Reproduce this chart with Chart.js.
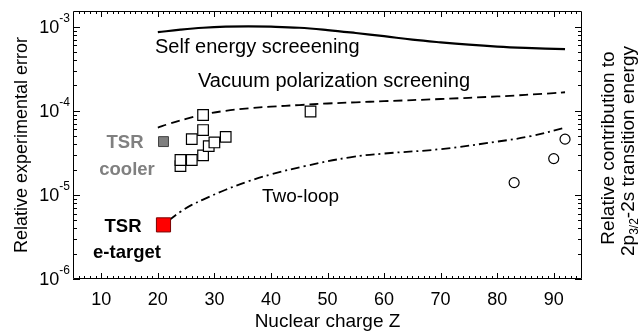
<!DOCTYPE html>
<html>
<head>
<meta charset="utf-8">
<script src="https://cdn.jsdelivr.net/npm/chart.js@4/dist/chart.umd.min.js"></script>
<style>
body { margin: 0; background: #fff; }
#wrap { width: 640px; height: 335px; }
</style>
</head>
<body>
<div id="wrap"><canvas id="chart"></canvas></div>
<script>
// theory curves (Z, relative contribution)
var selfEnergyZ = [20, 24, 28, 32, 36, 40, 45, 50, 55, 60, 65, 70, 75, 80, 85, 92];
var selfEnergy = [8.6e-4, 9.2e-4, 9.7e-4, 1.0e-3, 1.01e-3, 1.0e-3, 9.7e-4, 9.1e-4, 8.4e-4, 7.7e-4, 7.0e-4, 6.5e-4, 6.1e-4, 5.8e-4, 5.6e-4, 5.4e-4];
var vacPolZ = [20, 22, 25, 28, 32, 36, 40, 45, 50, 55, 60, 70, 80, 90, 92];
var vacPol = [6.3e-5, 7.0e-5, 8.0e-5, 9.0e-5, 1.0e-4, 1.07e-4, 1.12e-4, 1.17e-4, 1.22e-4, 1.26e-4, 1.3e-4, 1.38e-4, 1.48e-4, 1.62e-4, 1.66e-4];
var twoLoopZ = [22, 24, 26, 28, 32, 36, 40, 46, 54, 60, 70, 80, 86, 92];
var twoLoop = [5.0e-6, 6.3e-6, 7.6e-6, 8.8e-6, 1.15e-5, 1.45e-5, 1.75e-5, 2.2e-5, 2.8e-5, 3.1e-5, 3.5e-5, 4.3e-5, 5.0e-5, 6.3e-5];

// measurements (Z, relative experimental error)
var otherZ = [24, 24, 26, 26, 28, 28, 28, 29, 30, 32, 47];
var otherErr = [2.2e-5, 2.6e-5, 2.6e-5, 4.6e-5, 2.95e-5, 5.9e-5, 8.9e-5, 3.8e-5, 4.2e-5, 4.9e-5, 9.8e-5];
var heavyZ = [83, 90, 92];
var heavyErr = [1.4e-5, 2.7e-5, 4.6e-5];
var coolerZ = [21];
var coolerErr = [4.3e-5];
var etargetZ = [21];
var etargetErr = [4.4e-6];

var xTicks = [10, 20, 30, 40, 50, 60, 70, 80, 90];
var yExponents = [-6, -5, -4, -3];

var yMin = 1e-6, yMax = 1.535e-3;

function pts(xs, ys) {
    return xs.map(function (x, i) { return { x: x, y: ys[i] }; });
}

var FAM = "'Liberation Sans', Arial, sans-serif";
Chart.defaults.font.family = FAM;
Chart.defaults.color = '#000';

var decor = {
    id: 'decor',
    afterDraw: function (chart) {
        var ctx = chart.ctx, a = chart.chartArea;
        var xs = chart.scales.x, ys = chart.scales.y;
        ctx.save();
        ctx.strokeStyle = '#000';
        ctx.lineWidth = 1;
        ctx.beginPath();
        ctx.rect(a.left + 0.5, a.top + 0.5, a.right - a.left - 1, a.bottom - a.top - 1);
        for (var z = 6; z <= 94; z++) {
            var px = Math.round(xs.getPixelForValue(z)) + 0.5;
            var len = z % 10 === 0 ? 6 : 3;
            ctx.moveTo(px, a.bottom); ctx.lineTo(px, a.bottom - len);
            ctx.moveTo(px, a.top); ctx.lineTo(px, a.top + len);
        }
        for (var e = -6; e <= -3; e++) {
            for (var m = 1; m <= 9; m++) {
                var v = m * Math.pow(10, e);
                if (v > yMax) break;
                var py = Math.round(ys.getPixelForValue(v)) + 0.5;
                var l = m === 1 ? 7 : 4;
                ctx.moveTo(a.left, py); ctx.lineTo(a.left + l, py);
                ctx.moveTo(a.right, py); ctx.lineTo(a.right - l, py);
            }
        }
        ctx.stroke();

        // y tick labels 10^n
        ctx.fillStyle = '#000';
        ctx.textBaseline = 'middle';
        yExponents.forEach(function (ex) {
            var y = ys.getPixelForValue(Math.pow(10, ex));
            var sup = '-' + Math.abs(ex);
            ctx.font = '12px ' + FAM;
            var sw = ctx.measureText(sup).width;
            ctx.textAlign = 'left';
            ctx.fillText(sup, a.left - 3 - sw, y - 8);
            ctx.font = '18px ' + FAM;
            ctx.textAlign = 'right';
            ctx.fillText('10', a.left - 3 - sw, y + 1);
        });

        // annotations
        ctx.textAlign = 'left';
        ctx.font = '20px ' + FAM;
        ctx.fillText('Self energy screeening', 155, 47);
        ctx.fillText('Vacuum polarization screening', 198, 81);
        ctx.font = '19px ' + FAM;
        ctx.fillText('Two-loop', 262, 197);
        ctx.textAlign = 'center';
        ctx.font = 'bold 18.5px ' + FAM;
        ctx.fillStyle = '#808080';
        ctx.fillText('TSR', 125, 143);
        ctx.fillText('cooler', 127, 170);
        ctx.fillStyle = '#000';
        ctx.fillText('TSR', 123, 227);
        ctx.fillText('e-target', 127, 253);

        // right axis title
        ctx.save();
        ctx.translate(609, 148);
        ctx.rotate(-Math.PI / 2);
        ctx.font = '19px ' + FAM;
        ctx.textAlign = 'center';
        ctx.fillText('Relative contribution to', 0, 0);
        ctx.restore();

        ctx.save();
        ctx.translate(629, 151);
        ctx.rotate(-Math.PI / 2);
        ctx.textAlign = 'left';
        var big = '19px ' + FAM;
        var small = '12px ' + FAM;
        ctx.font = big;
        var w1 = ctx.measureText('2p').width;
        var w3 = ctx.measureText('-2s transition energy').width;
        ctx.font = small;
        var w2 = ctx.measureText('3/2').width;
        var x0 = -(w1 + w2 + w3) / 2;
        ctx.font = big;
        ctx.fillText('2p', x0, 0);
        ctx.font = small;
        ctx.fillText('3/2', x0 + w1, 6);
        ctx.font = big;
        ctx.fillText('-2s transition energy', x0 + w1 + w2, 0);
        ctx.restore();

        ctx.restore();
    }
};

new Chart(document.getElementById('chart'), {
    type: 'scatter',
    data: {
        datasets: [{
            label: 'TSR e-target',
            data: pts(etargetZ, etargetErr),
            pointStyle: 'rect',
            pointRadius: 10,
            backgroundColor: '#ff0000',
            borderColor: '#7a0000',
            borderWidth: 1
        }, {
            label: 'TSR cooler',
            data: pts(coolerZ, coolerErr),
            pointStyle: 'rect',
            pointRadius: 7,
            backgroundColor: '#7f7f7f',
            borderColor: '#404040',
            borderWidth: 1
        }, {
            label: 'Other',
            data: pts(otherZ, otherErr),
            pointStyle: 'rect',
            pointRadius: 7.5,
            backgroundColor: '#ffffff',
            borderColor: '#000',
            borderWidth: 1.2
        }, {
            label: 'Heavy ions',
            data: pts(heavyZ, heavyErr),
            pointStyle: 'circle',
            pointRadius: 5,
            backgroundColor: '#ffffff',
            borderColor: '#000',
            borderWidth: 1.2
        }, {
            label: 'Self energy screeening',
            data: pts(selfEnergyZ, selfEnergy),
            showLine: true,
            pointRadius: 0,
            borderColor: '#000',
            borderWidth: 2.2,
            tension: 0.4
        }, {
            label: 'Vacuum polarization screening',
            data: pts(vacPolZ, vacPol),
            showLine: true,
            pointRadius: 0,
            borderColor: '#000',
            borderWidth: 1.8,
            borderDash: [9, 5],
            tension: 0.4
        }, {
            label: 'Two-loop',
            data: pts(twoLoopZ, twoLoop),
            showLine: true,
            pointRadius: 0,
            borderColor: '#000',
            borderWidth: 1.8,
            borderDash: [9, 4, 2, 4],
            tension: 0.4
        }]
    },
    options: {
        responsive: true,
        maintainAspectRatio: false,
        animation: false,
        events: [],
        layout: {
            padding: { top: 5, right: 58, bottom: 0, left: 0 }
        },
        plugins: {
            legend: { display: false },
            tooltip: { enabled: false }
        },
        scales: {
            x: {
                type: 'linear',
                min: 5,
                max: 95,
                grid: { display: false, drawTicks: false },
                border: { display: false },
                afterBuildTicks: function (scale) {
                    scale.ticks = xTicks.map(function (v) { return { value: v }; });
                },
                afterFit: function (scale) { scale.height = 56; },
                ticks: {
                    padding: 10,
                    maxRotation: 0,
                    font: { size: 18 },
                    color: '#000'
                },
                title: {
                    display: true,
                    text: 'Nuclear charge Z',
                    font: { size: 19 },
                    color: '#000',
                    padding: { top: 0, bottom: 2 }
                }
            },
            y: {
                type: 'logarithmic',
                min: yMin,
                max: yMax,
                grid: { display: false, drawTicks: false },
                border: { display: false },
                ticks: { display: false },
                afterFit: function (scale) { scale.width = 73; },
                title: {
                    display: true,
                    text: 'Relative experimental error',
                    font: { size: 18 },
                    color: '#000',
                    padding: { top: 11, bottom: 0 }
                }
            }
        }
    },
    plugins: [decor]
});
</script>
</body>
</html>
